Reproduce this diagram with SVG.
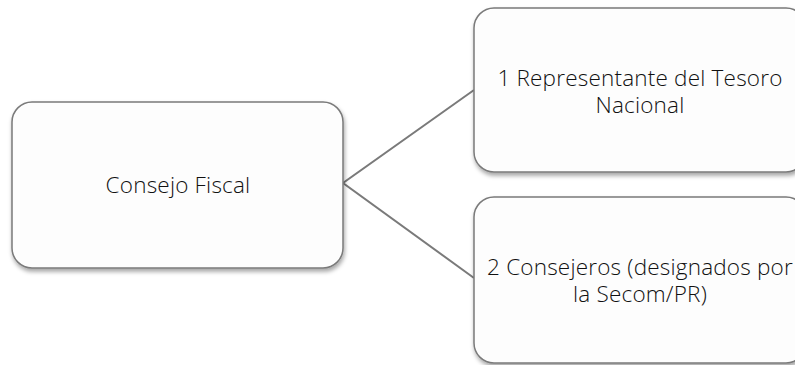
<svg xmlns="http://www.w3.org/2000/svg" width="795" height="365" viewBox="0 0 795 365">
<style>
.box{fill:#fdfdfd;stroke:#7a7a7a;stroke-width:1.5;filter:url(#sh)}
.t{font-family:"Open Sans","Liberation Sans",sans-serif;font-weight:300;font-size:22.5px;letter-spacing:0.2px;fill:#111;text-anchor:middle}
.c{stroke:#7a7a7a;stroke-width:2;fill:none}
</style>
<defs>
<filter id="sh" x="-10%" y="-10%" width="130%" height="130%">
<feDropShadow dx="1" dy="3" stdDeviation="2" flood-color="#000" flood-opacity="0.35"/>
</filter>
</defs>
<rect width="795" height="365" fill="#fff"/>
<g id="connectors">
<path class="c" d="M474,90 L343,183 L474,278"/>
</g>
<g id="n1">
<rect class="box" x="12" y="102" width="331" height="166" rx="20"/>
<text class="t" x="178" y="193">Consejo Fiscal</text>
</g>
<g id="n2">
<rect class="box" x="474" y="8" width="332" height="164" rx="20"/>
<text class="t" x="640" y="86">1 Representante del Tesoro</text>
<text class="t" x="640" y="113">Nacional</text>
</g>
<g id="n3">
<rect class="box" x="474" y="197" width="332" height="166" rx="20"/>
<text class="t" x="640" y="275">2 Consejeros (designados por</text>
<text class="t" x="640" y="302">la Secom/PR)</text>
</g>
</svg>
